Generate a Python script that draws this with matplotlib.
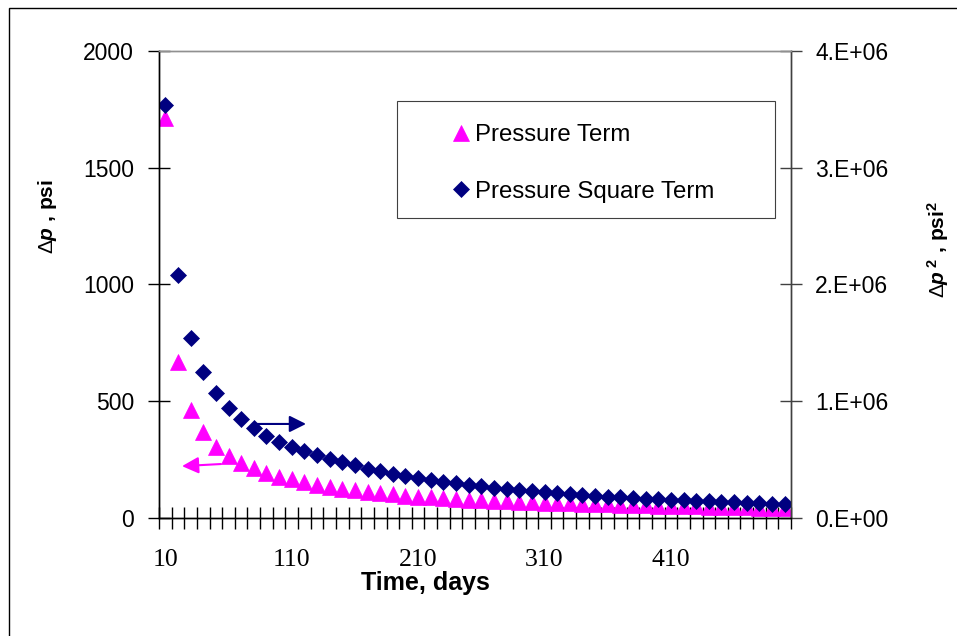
import numpy as np
import matplotlib
matplotlib.use("Agg")
import matplotlib.pyplot as plt
from matplotlib.patches import Rectangle
from matplotlib.ticker import FuncFormatter

plt.rcParams["font.family"] = ["Liberation Sans", "DejaVu Sans"]
plt.rcParams["mathtext.fontset"] = "custom"
plt.rcParams["mathtext.rm"] = "Liberation Sans"
plt.rcParams["mathtext.bf"] = "Liberation Sans:bold"
plt.rcParams["mathtext.it"] = "Liberation Sans:italic"
plt.rcParams["mathtext.bfit"] = "Liberation Sans:italic:bold"

# time categories, days
days = list(range(10, 501, 10))

# pressure term, psi (left axis)
dp = [1712, 669, 462, 367, 305, 265, 237, 213, 194, 177,
      165, 153, 143, 134, 126, 119, 112, 106, 101, 96,
      92, 88, 85, 81, 79, 76, 74, 72, 70, 68,
      66, 65, 63, 62, 60, 59, 57, 56, 55, 53,
      52, 51, 50, 48, 47, 46, 45, 43, 42, 41]

# pressure square term, psi^2 (right axis)
dp2 = [3.535e6, 2.08e6, 1.543e6, 1.252e6, 1.073e6, 0.944e6, 0.847e6, 0.773e6, 0.705e6, 0.653e6,
       0.610e6, 0.574e6, 0.539e6, 0.505e6, 0.478e6, 0.450e6, 0.423e6, 0.400e6, 0.378e6, 0.358e6,
       0.342e6, 0.328e6, 0.312e6, 0.298e6, 0.285e6, 0.272e6, 0.260e6, 0.249e6, 0.239e6, 0.230e6,
       0.221e6, 0.213e6, 0.205e6, 0.198e6, 0.191e6, 0.184e6, 0.178e6, 0.172e6, 0.166e6, 0.161e6,
       0.156e6, 0.151e6, 0.146e6, 0.142e6, 0.138e6, 0.134e6, 0.130e6, 0.126e6, 0.122e6, 0.118e6]

xlabels = [10, 110, 210, 310, 410]

pink = "#FF00FF"
navy = "#000080"

fig = plt.figure(figsize=(9.57, 6.36), dpi=100)
ax = fig.add_axes([159 / 957, 1 - 518 / 636, 632 / 957, 467.3 / 636])
ax2 = ax.twinx()

l1, = ax.plot(days, dp, linestyle="none", marker="^", markersize=12,
              color=pink, markeredgecolor=pink, markeredgewidth=0.5, label="Pressure Term")
l2, = ax2.plot(days, dp2, linestyle="none", marker="D", markersize=8.3,
               color=navy, markeredgecolor=navy, markeredgewidth=0.5, label="Pressure Square Term")

ax.set_xlim(5, 505)
ax.set_ylim(0, 2000)
ax2.set_ylim(0, 4e6)

# category boundaries get the tick marks, labels sit on the categories
ax.set_xticks(np.arange(5, 506, 10))
ax.set_xticklabels([])
ax.set_xticks(xlabels, minor=True)
ax.set_xticklabels([str(v) for v in xlabels], minor=True,
                   fontfamily="Liberation Serif", fontsize=18.5)
ax.tick_params(axis="x", which="major", direction="inout", length=16, width=1, color="black")
ax.tick_params(axis="x", which="minor", length=0, pad=22)

ax.set_yticks([0, 500, 1000, 1500, 2000])
ax.tick_params(axis="y", direction="inout", length=16, width=1, labelsize=16.5, pad=10)
ax2.set_yticks([0, 1e6, 2e6, 3e6, 4e6])
ax2.yaxis.set_major_formatter(FuncFormatter(lambda v, pos: f"{v / 1e6:.0f}.E+06" if v else "0.E+00"))
ax2.tick_params(axis="y", direction="inout", length=16, width=1, labelsize=16.5, pad=9.5, color="#404040")

for a in (ax, ax2):
    a.spines["left"].set_color("black")
    a.spines["bottom"].set_color("black")
    a.spines["right"].set_color("#404040")
    a.spines["top"].set_color("#909090")
    for s in a.spines.values():
        s.set_linewidth(1.0)

ax.set_xlabel("Time, days", fontsize=18, fontweight="bold", va="center")
ax.xaxis.set_label_coords(0.4217, -0.139)
ax.set_ylabel(r"$\Delta\mathbfit{p}$ , psi", fontsize=15, fontweight="bold", va="center")
ax.yaxis.set_label_coords(-0.176, 0.646)
ax2.set_ylabel(r"$\Delta\mathbfit{p}^{\ \mathbf{2}}$ , psi$^{\mathbf{2}}$", fontsize=15,
               fontweight="bold", va="center", rotation=90)
ax2.yaxis.set_label_coords(1.2326, 0.5735)

# arrows telling which axis each series belongs to
arrow = "-|>,head_length=1.0,head_width=0.5"
ax2.annotate("", xy=(121.3, 0.805e6), xytext=(81.7, 0.805e6),
             arrowprops=dict(arrowstyle=arrow, color=navy, lw=1.5, mutation_scale=10,
                             shrinkA=0, shrinkB=0))
ax2.annotate("", xy=(23.2, 0.444e6), xytext=(54.0, 0.462e6),
             arrowprops=dict(arrowstyle=arrow, color=pink, lw=1.5, mutation_scale=10,
                             shrinkA=0, shrinkB=0))

# legend box
fig.patches.append(Rectangle((397 / 957, 1 - 218 / 636), 378 / 957, 117 / 636,
                             transform=fig.transFigure, facecolor="white",
                             edgecolor="#404040", linewidth=0.8, zorder=5))
leg = fig.legend(handles=[l1, l2], loc="upper left", bbox_to_anchor=(441 / 957, 1 - 112 / 636),
                 frameon=False, fontsize=17.3, handlelength=0.65, handletextpad=0.25,
                 labelspacing=1.45, borderpad=0, numpoints=1)
leg.set_zorder(6)

# outer chart border
fig.patches.append(Rectangle((9 / 957, -0.1), 1.2, 1 - 8 / 636 + 0.1, transform=fig.transFigure,
                             facecolor="none", edgecolor="black", linewidth=1.0, clip_on=False))

fig.savefig("out.png", dpi=100)
